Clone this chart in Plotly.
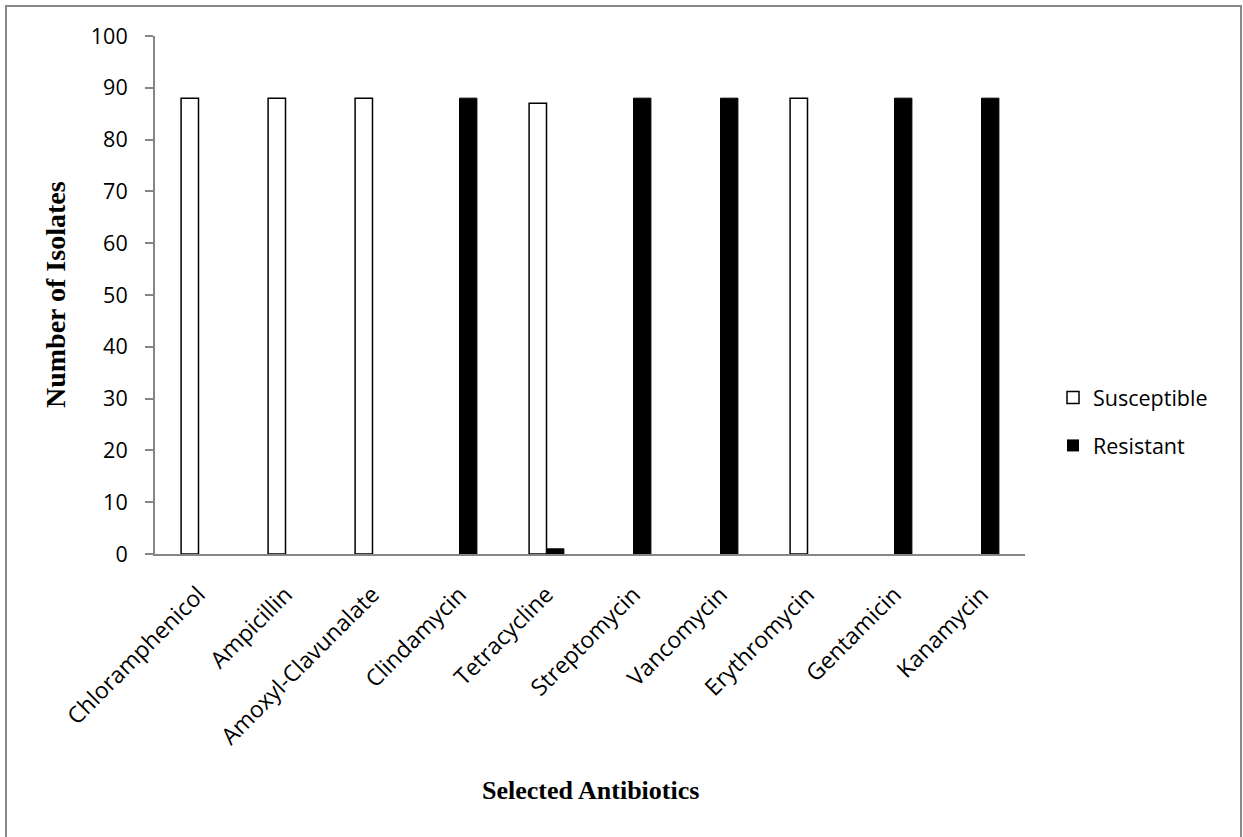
import plotly.graph_objects as go

antibiotics = ["Chloramphenicol", "Ampicillin", "Amoxyl-Clavunalate", "Clindamycin",
               "Tetracycline", "Streptomycin", "Vancomycin", "Erythromycin",
               "Gentamicin", "Kanamycin"]
susceptible = [88, 88, 88, 0, 87, 0, 0, 88, 0, 0]
resistant = [0, 0, 0, 88, 1, 88, 88, 0, 88, 88]
y_ticks = list(range(0, 101, 10))

W, H = 1243, 837
ml, mr, mt, mb = 155, 218, 36, 283
pw = W - ml - mr
ph = H - mt - mb


def px_x(p):
    return (p - ml) / pw


def px_y(p):
    return (mt + ph - p) / ph


fig = go.Figure()
fig.add_trace(go.Bar(x=antibiotics, y=susceptible, name="Susceptible", legendgroup="s",
                     marker=dict(color="white",
                                 line=dict(color="black",
                                           width=[1.5 if v > 0 else 0 for v in susceptible]))))
fig.add_trace(go.Bar(x=antibiotics, y=resistant, name="Resistant", legendgroup="r",
                     marker=dict(color="black",
                                 line=dict(color="black",
                                           width=[1 if v > 0 else 0 for v in resistant]))))

sans = "Open Sans, Liberation Sans, sans-serif"
serif = "Liberation Serif, Times New Roman, serif"

fig.update_layout(
    width=W, height=H,
    margin=dict(l=ml, r=mr, t=mt, b=mb),
    paper_bgcolor="white", plot_bgcolor="white",
    barmode="group", bargap=0.6, bargroupgap=0,
    showlegend=True,
    legend=dict(x=px_x(1053), y=px_y(377), xanchor="left", yanchor="top",
                font=dict(family=sans, size=21.5, color="black"),
                tracegroupgap=17, itemwidth=30, bgcolor="rgba(0,0,0,0)"),
    xaxis=dict(showline=True, linecolor="#868686", linewidth=2, ticks="",
               tickangle=-45, tickfont=dict(family=sans, size=23, color="black"),
               ticklabelstandoff=16, showgrid=False),
    yaxis=dict(range=[0, 100], tickvals=y_ticks, showline=True, linecolor="#868686",
               linewidth=2, ticks="outside", ticklen=8, tickcolor="#868686", tickwidth=2,
               tickfont=dict(family=sans, size=21.5, color="black"),
               ticklabelstandoff=13, showgrid=False, zeroline=False),
    annotations=[
        dict(text="<b>Selected Antibiotics</b>", xref="paper", yref="paper",
             x=px_x(590), y=px_y(790), xanchor="center", yanchor="middle",
             showarrow=False, font=dict(family=serif, size=26, color="black")),
        dict(text="<b>Number of Isolates</b>", xref="paper", yref="paper",
             x=px_x(55), y=px_y(295), xanchor="center", yanchor="middle",
             textangle=-90, showarrow=False,
             font=dict(family=serif, size=28, color="black")),
    ],
    shapes=[dict(type="rect", xref="paper", yref="paper",
                 x0=px_x(6), x1=px_x(1241), y0=px_y(845), y1=px_y(6),
                 line=dict(color="#888888", width=2), fillcolor="rgba(0,0,0,0)",
                 layer="below")],
)

fig.write_html("out.html", config={"displayModeBar": False},
               post_script="document.body.style.margin='0';")
